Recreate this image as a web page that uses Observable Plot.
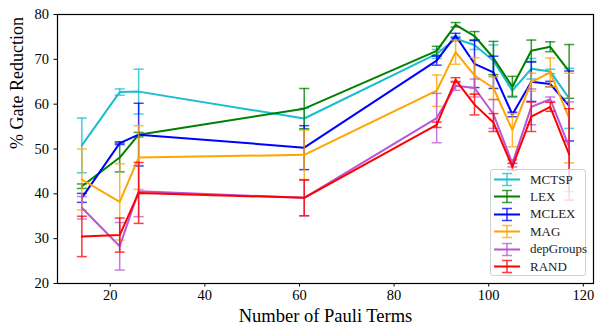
<!DOCTYPE html>
<html>
<head>
<meta charset="utf-8">
<script src="https://cdn.jsdelivr.net/npm/d3@7"></script>
<script src="https://cdn.jsdelivr.net/npm/@observablehq/plot@0.6"></script>
<style>
  html, body { margin: 0; padding: 0; background: white; }
  #wrap { position: relative; width: 603px; height: 325px; font-family: "Liberation Serif", "Times New Roman", Tinos, "DejaVu Serif", serif; }
  #legend { position: absolute; left: 490px; top: 169px; width: 96px; height: 107px; box-sizing: border-box;
            border: 1px solid #d0d0d0; border-radius: 3px; background: rgba(255,255,255,0.8); }
  .entry { position: absolute; left: 2px; height: 17px; display: flex; align-items: center; font-size: 13px; color: #222; font-weight: normal;
           font-family: "Liberation Serif", "Times New Roman", Tinos, "DejaVu Serif", serif; }
  .entry span { font-family: "Liberation Serif", "Times New Roman", Tinos, "DejaVu Serif", serif; font-weight: 400; }
  .entry svg { margin-right: 9px; }
  svg text { font-family: "Liberation Serif", "Times New Roman", Tinos, "DejaVu Serif", serif; }
</style>
</head>
<body>
<div id="wrap"><div id="legend"></div></div>
<script>
const terms = [14, 22, 26, 61, 89, 93, 97, 101, 105, 109, 113, 117];
const seriesNames = ["MCTSP", "LEX", "MCLEX", "MAG", "depGroups", "RAND"];
const seriesColors = ["#17becf", "#008000", "#0000ff", "#ffa500", "#ba55d3", "#ff0000"];

const mctspMean = [50.8, 62.7, 62.8, 56.8, 71.2, 74.6, 73.2, 69.7, 63.0, 67.9, 67.3, 61.3];
const mctspErr  = [6.1, 0.7, 5.0, 2.3, 1.0, 0.5, 1.0, 3.5, 1.2, 2.3, 0.5, 6.7];
const lexMean   = [41.7, 48.1, 53.2, 59.0, 71.9, 77.7, 75.2, 70.3, 63.9, 71.9, 72.8, 67.3];
const lexErr    = [0.5, 3.2, 0.5, 4.5, 1.0, 0.5, 1.0, 3.7, 2.3, 2.4, 1.1, 6.0];
const mclexMean = [39.1, 51.3, 53.2, 50.3, 69.7, 75.3, 69.0, 67.1, 57.7, 65.0, 64.5, 59.6];
const mclexErr  = [1.0, 0.3, 7.0, 4.9, 1.0, 0.5, 5.3, 3.6, 0.5, 4.4, 0.6, 7.8];
const magMean   = [43.2, 38.2, 48.1, 48.7, 63.0, 71.6, 66.4, 63.6, 54.2, 64.9, 67.1, 56.9];
const magErr    = [6.8, 8.5, 7.1, 5.5, 3.5, 2.7, 4.0, 2.5, 3.7, 2.0, 3.2, 10.0];
const depMean   = [36.9, 28.3, 40.6, 39.1, 56.9, 64.1, 63.6, 57.8, 46.8, 59.4, 61.1, 50.5];
const depErr    = [2.5, 5.3, 5.7, 4.0, 5.5, 1.0, 2.0, 3.2, 0.8, 4.0, 0.5, 10.0];
const randMean  = [30.5, 30.8, 40.2, 39.1, 55.4, 65.4, 59.9, 55.9, 46.0, 57.2, 59.4, 48.8];
const randErr   = [4.5, 3.8, 6.8, 4.0, 0.6, 0.5, 2.3, 2.0, 0.8, 3.3, 1.0, 10.2];

const xTicks = [20, 40, 60, 80, 100, 120];
const yTicks = [20, 30, 40, 50, 60, 70, 80];

const means = [mctspMean, lexMean, mclexMean, magMean, depMean, randMean];
const errs = [mctspErr, lexErr, mclexErr, magErr, depErr, randErr];

const serif = "'Liberation Serif', 'Times New Roman', Tinos, 'DejaVu Serif', serif";

// horizontal cap symbol for error bars
const capSymbol = { draw(ctx, size) { const w = 5; ctx.moveTo(-w, 0); ctx.lineTo(w, 0); } };

const marks = [];
seriesNames.forEach((name, i) => {
  const rows = terms.map((t, j) => ({ t, m: means[i][j], e: errs[i][j] }));
  const color = seriesColors[i];
  marks.push(Plot.ruleX(rows, { x: "t", y1: d => d.m - d.e, y2: d => d.m + d.e, stroke: color, strokeWidth: 1.5, strokeOpacity: 0.8 }));
  marks.push(Plot.dot(rows, { x: "t", y: d => d.m - d.e, symbol: capSymbol, r: 3, fill: "none", stroke: color, strokeWidth: 1.5, strokeOpacity: 0.75 }));
  marks.push(Plot.dot(rows, { x: "t", y: d => d.m + d.e, symbol: capSymbol, r: 3, fill: "none", stroke: color, strokeWidth: 1.5, strokeOpacity: 0.75 }));
  marks.push(Plot.line(rows, { x: "t", y: "m", stroke: color, strokeWidth: 2 }));
});

const chart = Plot.plot({
  width: 603,
  height: 325,
  marginLeft: 57,
  marginRight: 10,
  marginTop: 14,
  marginBottom: 42,
  style: { fontFamily: serif, fontSize: "14px", background: "white", color: "black" },
  x: { domain: [8.85, 122.15] },
  y: { domain: [20, 80] },
  marks: [
    ...marks,
    Plot.frame({ stroke: "black", strokeWidth: 1.2 }),
    Plot.axisX({ ticks: xTicks, tickSize: 3.5, tickPadding: 2.5, label: null, fontSize: 14.5, fontFamily: serif }),
    Plot.axisY({ ticks: yTicks, tickSize: 3.5, tickPadding: 5, label: null, fontSize: 14.5, fontFamily: serif }),
    Plot.text(["Number of Pauli Terms"], { frameAnchor: "bottom", dy: 38, fontSize: 18.5, fill: "black", fontFamily: serif }),
    Plot.text(["% Gate Reduction"], { frameAnchor: "left", rotate: -90, dx: -40, fontSize: 18, fill: "black", fontFamily: serif })
  ]
});
document.getElementById("wrap").prepend(chart);

// legend
const legend = document.getElementById("legend");
seriesNames.forEach((name, i) => {
  const c = seriesColors[i];
  const div = document.createElement("div");
  div.className = "entry";
  div.style.top = (1 + i * 17.4) + "px";
  div.innerHTML = `<svg width="28" height="17"><line x1="1" y1="8.5" x2="27" y2="8.5" stroke="${c}" stroke-width="2"/>` +
    `<line x1="14" y1="2.5" x2="14" y2="14.5" stroke="${c}" stroke-width="1.5" stroke-opacity="0.8"/>` +
    `<line x1="9" y1="2.5" x2="19" y2="2.5" stroke="${c}" stroke-width="1.5" stroke-opacity="0.75"/>` +
    `<line x1="9" y1="14.5" x2="19" y2="14.5" stroke="${c}" stroke-width="1.5" stroke-opacity="0.75"/></svg>` +
    `<span>${name}</span>`;
  legend.appendChild(div);
});
</script>
</body>
</html>
